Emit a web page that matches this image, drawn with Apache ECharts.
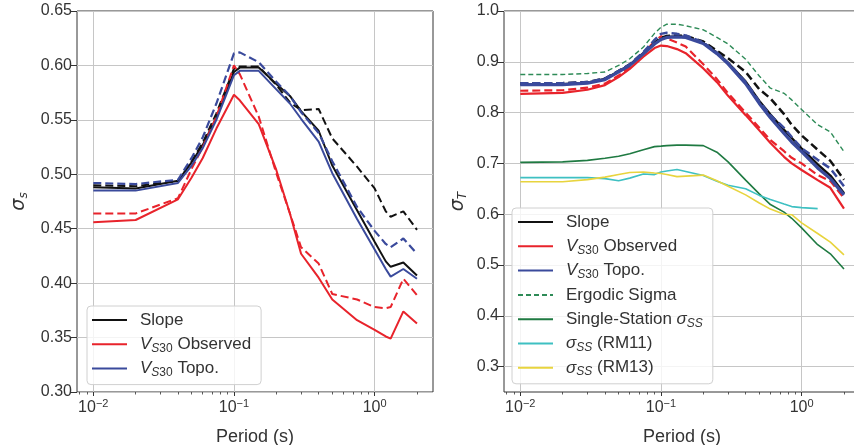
<!DOCTYPE html>
<html><head><meta charset="utf-8">
<script src="https://cdn.jsdelivr.net/npm/echarts@6/dist/echarts.min.js"></script>
<style>html,body{margin:0;padding:0;background:#fff}#c{width:854px;height:445px}</style>
</head><body><div id="c"></div>
<script>
// ---------- data ----------
const periodsL = [0.01, 0.02, 0.04, 0.05, 0.06, 0.075, 0.1, 0.11, 0.15, 0.2, 0.25, 0.3, 0.4, 0.5, 0.75, 1.0, 1.2, 1.3, 1.6, 2.0];
const leftSlope     = [0.488, 0.487, 0.494, 0.511, 0.527, 0.552, 0.594, 0.598, 0.598, 0.583, 0.572, 0.558, 0.540, 0.508, 0.467, 0.438, 0.420, 0.415, 0.419, 0.407];
const leftSlopeDash = [0.490, 0.489, 0.494, 0.512, 0.529, 0.556, 0.597, 0.599, 0.599, 0.582, 0.566, 0.559, 0.560, 0.533, 0.507, 0.487, 0.466, 0.461, 0.466, 0.449];
const leftObs       = [0.456, 0.458, 0.477, 0.497, 0.515, 0.542, 0.573, 0.568, 0.546, 0.504, 0.464, 0.427, 0.405, 0.385, 0.366, 0.357, 0.351, 0.349, 0.374, 0.363];
const leftObsDash   = [0.464, 0.464, 0.478, 0.505, 0.525, 0.553, 0.600, 0.592, 0.553, 0.501, 0.464, 0.433, 0.418, 0.390, 0.385, 0.378, 0.377, 0.378, 0.404, 0.389];
const leftTopo      = [0.485, 0.485, 0.492, 0.508, 0.524, 0.550, 0.591, 0.595, 0.595, 0.578, 0.565, 0.551, 0.530, 0.501, 0.459, 0.431, 0.413, 0.406, 0.413, 0.404];
const leftTopoDash  = [0.492, 0.491, 0.495, 0.515, 0.534, 0.565, 0.611, 0.612, 0.603, 0.585, 0.572, 0.557, 0.538, 0.512, 0.470, 0.448, 0.436, 0.433, 0.441, 0.427];

const periodsR = [0.01, 0.02, 0.03, 0.04, 0.05, 0.06, 0.075, 0.09, 0.1, 0.11, 0.13, 0.15, 0.2, 0.25, 0.3, 0.4, 0.5, 0.6, 0.75, 0.85, 1.0, 1.3, 1.6, 2.0];
const rightSlope     = [0.856, 0.856, 0.859, 0.866, 0.881, 0.894, 0.917, 0.936, 0.945, 0.949, 0.950, 0.949, 0.937, 0.918, 0.898, 0.861, 0.823, 0.796, 0.766, 0.750, 0.729, 0.698, 0.676, 0.641];
const rightSlopeDash = [0.858, 0.858, 0.860, 0.867, 0.882, 0.895, 0.918, 0.938, 0.947, 0.951, 0.952, 0.951, 0.940, 0.922, 0.907, 0.880, 0.846, 0.828, 0.797, 0.776, 0.755, 0.727, 0.705, 0.668];
const rightObs       = [0.837, 0.839, 0.845, 0.854, 0.870, 0.886, 0.910, 0.927, 0.932, 0.931, 0.925, 0.917, 0.887, 0.860, 0.833, 0.795, 0.765, 0.740, 0.713, 0.700, 0.687, 0.667, 0.652, 0.611];
const rightObsDash   = [0.843, 0.844, 0.849, 0.857, 0.873, 0.890, 0.917, 0.940, 0.950, 0.946, 0.938, 0.930, 0.895, 0.866, 0.838, 0.800, 0.770, 0.746, 0.724, 0.711, 0.700, 0.677, 0.665, 0.632];
const rightTopo      = [0.855, 0.855, 0.858, 0.865, 0.880, 0.893, 0.916, 0.935, 0.944, 0.948, 0.949, 0.948, 0.936, 0.916, 0.896, 0.857, 0.818, 0.790, 0.759, 0.742, 0.723, 0.691, 0.670, 0.638];
const rightTopoDash  = [0.858, 0.858, 0.860, 0.867, 0.882, 0.895, 0.919, 0.943, 0.955, 0.957, 0.955, 0.952, 0.938, 0.918, 0.898, 0.860, 0.822, 0.795, 0.770, 0.752, 0.730, 0.707, 0.690, 0.655];
const rightErgodic   = [0.875, 0.875, 0.877, 0.880, 0.893, 0.906, 0.929, 0.956, 0.968, 0.974, 0.974, 0.971, 0.963, 0.948, 0.935, 0.905, 0.872, 0.848, 0.838, 0.825, 0.806, 0.776, 0.762, 0.723];
const rightSingle    = [0.702, 0.703, 0.706, 0.710, 0.714, 0.719, 0.727, 0.733, 0.734, 0.735, 0.736, 0.736, 0.735, 0.722, 0.703, 0.667, 0.640, 0.619, 0.604, 0.592, 0.573, 0.540, 0.522, 0.492];
const rightRM11      = [0.672, 0.672, 0.672, 0.670, 0.666, 0.671, 0.679, 0.678, 0.683, 0.685, 0.688, 0.684, 0.676, 0.665, 0.657, 0.650, 0.637, 0.629, 0.620, 0.615, 0.613, 0.611, null, null];
const rightRM13      = [0.664, 0.664, 0.668, 0.673, 0.678, 0.682, 0.683, 0.681, 0.680, 0.678, 0.674, 0.675, 0.677, 0.666, 0.655, 0.638, 0.622, 0.610, 0.600, 0.599, 0.583, 0.562, 0.545, 0.520];

const xMajorTicks = [0.01, 0.1, 1];
const xMinorTicks = [0.008, 0.009, 0.02, 0.03, 0.04, 0.05, 0.06, 0.07, 0.08, 0.09,
                     0.2, 0.3, 0.4, 0.5, 0.6, 0.7, 0.8, 0.9, 2];
const yTicksL = [0.30, 0.35, 0.40, 0.45, 0.50, 0.55, 0.60, 0.65];
const yTicksR = [0.3, 0.4, 0.5, 0.6, 0.7, 0.8, 0.9, 1.0];

// ---------- style ----------
const FONT = "'Liberation Sans', Arial, sans-serif";
const TXT = '#333';
const GRID = '#c6c6c6';
const C = {black:'#111111', red:'#e8232b', blue:'#3a4a9c', erg:'#2e8b57', ss:'#1f7a42', rm11:'#3ec0c2', rm13:'#e8d43e'};
const XMIN = 0.00766, XMAX = 2.6;

const pairs = (xs, ys) => xs.map((x, i) => [x, ys[i]]);

const richText = {
  iv: {fontStyle:'italic', fontSize:17, fontFamily:FONT, color:TXT, lineHeight:20},
  sv: {fontStyle:'italic', fontSize:12, fontFamily:FONT, color:TXT, lineHeight:10, verticalAlign:'bottom'},
  sn: {fontSize:12, fontFamily:FONT, color:TXT, lineHeight:10, verticalAlign:'bottom'}
};
const legendText = {
  L_slope:'Slope', L_obs:'{iv|V}{sv|S}{sn|30} Observed', L_topo:'{iv|V}{sv|S}{sn|30} Topo.',
  R_slope:'Slope', R_obs:'{iv|V}{sv|S}{sn|30} Observed', R_topo:'{iv|V}{sv|S}{sn|30} Topo.',
  R_erg:'Ergodic Sigma', R_ss:'Single-Station {iv|σ}{sv|SS}',
  R_rm11:'{iv|σ}{sv|SS} (RM11)', R_rm13:'{iv|σ}{sv|SS} (RM13)'
};

function xAxes(gridIndex) {
  const common = {type:'log', logBase:10, gridIndex, min:XMIN, max:XMAX, position:'bottom'};
  return [
    Object.assign({}, common, {
      axisLine:{show:false},
      axisTick:{show:true, length:4, inside:false, customValues:xMajorTicks, lineStyle:{color:'#333', width:1}},
      splitLine:{show:true, lineStyle:{color:GRID, width:1}},
      axisLabel:{
        customValues:xMajorTicks, margin:6, color:TXT, fontFamily:FONT, fontSize:16,
        formatter: v => { const e = Math.round(Math.log10(v)); return '{b|10}{e|' + (e < 0 ? '\u2212' + (-e) : e) + '}'; },
        rich:{ b:{fontSize:16, fontFamily:FONT, color:TXT, lineHeight:20},
               e:{fontSize:11, fontFamily:FONT, color:TXT, lineHeight:14, verticalAlign:'top'} }
      },
      name:'Period (s)', nameLocation:'middle', nameGap:36,
      nameTextStyle:{fontFamily:FONT, fontSize:18, color:TXT}
    }),
    Object.assign({}, common, {
      axisLine:{show:false}, splitLine:{show:false}, axisLabel:{show:false},
      axisTick:{show:true, length:2.5, customValues:xMinorTicks, lineStyle:{color:'#333', width:0.8}}
    })
  ];
}

function yAxis(gridIndex, min, max, ticks, dec, nameRich, gap) {
  return {
    type:'value', gridIndex, min, max,
    axisLine:{show:false},
    axisTick:{show:true, length:7, customValues:ticks, lineStyle:{color:'#333'}},
    splitLine:{show:true, lineStyle:{color:GRID, width:1}},
    axisLabel:{customValues:ticks, color:TXT, fontFamily:FONT, fontSize:16, margin:5, formatter: v => v.toFixed(dec)},
    name:nameRich, nameLocation:'middle', nameRotate:90, nameGap:gap,
    nameTextStyle:{fontSize:18, color:TXT, fontFamily:FONT, rich:{
      g:{fontStyle:'italic', fontSize:19, fontFamily:'DejaVu Sans', color:TXT, lineHeight:22},
      s:{fontStyle:'italic', fontSize:12, fontFamily:'DejaVu Sans', color:TXT, lineHeight:10, verticalAlign:'bottom'}
    }}
  };
}

function line(name, xi, yi, xs, ys, color, width, dash, z) {
  return {
    type:'line', name, xAxisIndex:xi, yAxisIndex:yi, data:pairs(xs, ys),
    showSymbol:false, symbol:'none', connectNulls:false, smooth:false, z:z || 2,
    lineStyle:{color, width, type: dash || 'solid'}, itemStyle:{color}, silent:true, animation:false
  };
}

const legendCommon = {
  orient:'vertical', itemWidth:35, itemHeight:14, itemGap:4.3,
  backgroundColor:'rgba(255,255,255,0.8)', borderColor:'#d0d0d0', borderWidth:1, borderRadius:4,
  itemStyle:{opacity:0},
  textStyle:{fontFamily:FONT, fontSize:17, color:TXT, lineHeight:20, padding:[0,0,0,8], rich:richText},
  formatter: n => legendText[n], selectedMode:false
};

const option = {
  backgroundColor:'#ffffff',
  animation:false,
  grid:[
    {left:77, top:11, width:356, height:381, show:true, borderColor:'#333', borderWidth:1, backgroundColor:'transparent', outerBoundsMode:'none', containLabel:false},
    {left:504, top:11, width:356, height:381, show:true, borderColor:'#333', borderWidth:1, backgroundColor:'transparent', outerBoundsMode:'none', containLabel:false}
  ],
  xAxis: xAxes(0).concat(xAxes(1)),
  yAxis: [
    yAxis(0, 0.30, 0.65, yTicksL, 2, '{g|σ}{s|s}', 47),
    yAxis(1, 0.25, 1.0, yTicksR, 1, '{g|σ}{s|T}', 35)
  ],
  legend:[
    Object.assign({}, legendCommon, {left:87, top:306, padding:[4,10,6,4], data:['L_slope','L_obs','L_topo']}),
    Object.assign({}, legendCommon, {left:512, top:208, padding:[4,10,6,5], data:['R_slope','R_obs','R_topo','R_erg','R_ss','R_rm11','R_rm13']})
  ],
  series:[
    line('L_slope', 0, 0, periodsL, leftSlope, C.black, 2),
    line('L_slope_d', 0, 0, periodsL, leftSlopeDash, C.black, 2, [8,4]),
    line('L_obs', 0, 0, periodsL, leftObs, C.red, 2),
    line('L_obs_d', 0, 0, periodsL, leftObsDash, C.red, 2, [8,4]),
    line('L_topo', 0, 0, periodsL, leftTopo, C.blue, 2),
    line('L_topo_d', 0, 0, periodsL, leftTopoDash, C.blue, 2.2, [8,4]),

    line('R_erg', 2, 1, periodsR, rightErgodic, C.erg, 1.4, [5,3]),
    line('R_ss', 2, 1, periodsR, rightSingle, C.ss, 1.6),
    line('R_rm11', 2, 1, periodsR, rightRM11, C.rm11, 1.6),
    line('R_rm13', 2, 1, periodsR, rightRM13, C.rm13, 1.6),
    line('R_obs', 2, 1, periodsR, rightObs, C.red, 2.2),
    line('R_obs_d', 2, 1, periodsR, rightObsDash, C.red, 2.2, [8,4]),
    line('R_slope', 2, 1, periodsR, rightSlope, C.black, 2.5),
    line('R_slope_d', 2, 1, periodsR, rightSlopeDash, C.black, 2.5, [8,4]),
    line('R_topo', 2, 1, periodsR, rightTopo, C.blue, 3.2),
    line('R_topo_d', 2, 1, periodsR, rightTopoDash, C.blue, 2.5, [8,4])
  ]
};
const chart = echarts.init(document.getElementById('c'), null, {renderer:'canvas'});
chart.setOption(option);
</script></body></html>
